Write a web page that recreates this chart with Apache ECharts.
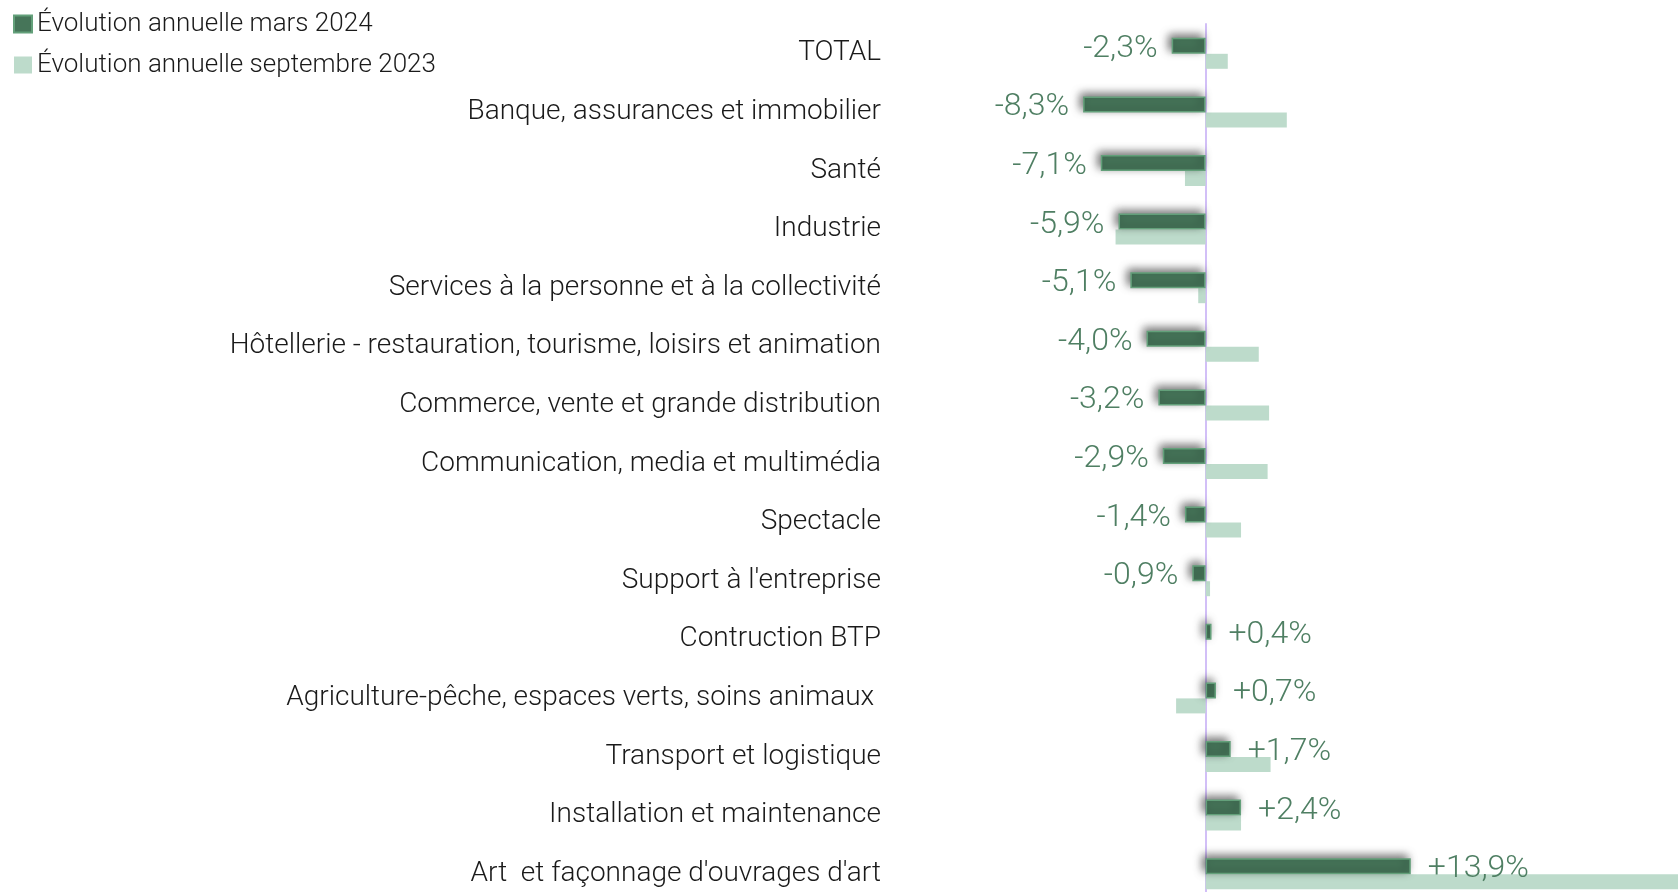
<!DOCTYPE html>
<html lang="fr">
<head>
    <meta charset="UTF-8">
    <title>Évolution annuelle par secteur</title>
    <script src="https://cdn.jsdelivr.net/npm/echarts@6/dist/echarts.min.js"></script>
    <style>
        body {
            margin: 0;
            padding: 0;
            background-color: #ffffff;
        }
        #chart {
            width: 1678px;
            height: 892px;
        }
    </style>
</head>
<body>
<div id="chart"></div>
<script>
    // secteurs (de haut en bas)
    var categories = [
        'TOTAL',
        'Banque, assurances et immobilier',
        'Santé',
        'Industrie',
        'Services à la personne et à la collectivité',
        'Hôtellerie - restauration, tourisme, loisirs et animation',
        'Commerce, vente et grande distribution',
        'Communication, media et multimédia',
        'Spectacle',
        "Support à l'entreprise",
        'Contruction BTP',
        'Agriculture-pêche, espaces verts, soins animaux ',
        'Transport et logistique',
        'Installation et maintenance',
        "Art  et façonnage d'ouvrages d'art"
    ];
    // évolution annuelle mars 2024 (%)
    var mars2024 = [-2.3, -8.3, -7.1, -5.9, -5.1, -4.0, -3.2, -2.9, -1.4, -0.9, 0.4, 0.7, 1.7, 2.4, 13.9];
    // évolution annuelle septembre 2023 (%)
    var sept2023 = [1.5, 5.5, -1.4, -6.1, -0.5, 3.6, 4.3, 4.2, 2.4, 0.3, 0.0, -2.0, 4.4, 2.4, 35.0];

    var legendNames = ['Évolution annuelle mars 2024', 'Évolution annuelle septembre 2023'];

    var chart = echarts.init(document.getElementById('chart'));

    var labelFont = 'Roboto';

    // étiquette à gauche pour les valeurs négatives, à droite sinon
    var darkData = mars2024.map(function (v) {
        return {
            value: v,
            label: {
                position: v < 0 ? 'left' : 'right',
                distance: v < 0 ? 14 : 17
            }
        };
    });

    var option = {
        backgroundColor: '#ffffff',
        animation: false,
        legend: {
            orient: 'vertical',
            left: 8,
            top: 6,
            itemWidth: 18,
            itemHeight: 17,
            itemGap: 15,
            icon: 'rect',
            data: legendNames,
            textStyle: {
                fontFamily: labelFont,
                fontWeight: 300,
                fontSize: 26,
                color: '#1a1a1a'
            }
        },
        grid: {
            left: 1058,
            width: 620,
            top: 24,
            height: 879,
            outerBoundsMode: 'none'
        },
        xAxis: {
            type: 'value',
            min: -10,
            max: 32,
            axisLine: { show: false },
            axisTick: { show: false },
            axisLabel: { show: false },
            splitLine: { show: false }
        },
        yAxis: {
            type: 'category',
            inverse: true,
            data: categories,
            axisLine: {
                show: true,
                onZero: true,
                lineStyle: { color: '#d2bff7', width: 2 }
            },
            axisTick: { show: false },
            axisLabel: {
                margin: 177,
                fontFamily: labelFont,
                fontWeight: 300,
                fontSize: 28,
                color: '#1a1a1a'
            }
        },
        series: [
            {
                name: legendNames[0],
                type: 'bar',
                data: darkData,
                barWidth: 16,
                barGap: '0%',
                z: 3,
                itemStyle: {
                    color: '#467559',
                    borderColor: '#63a07a',
                    borderWidth: 1.5,
                    shadowColor: 'rgba(0,0,0,0.55)',
                    shadowBlur: 9,
                    shadowOffsetX: -3,
                    shadowOffsetY: -3
                },
                label: {
                    show: true,
                    offset: [0, 3],
                    fontFamily: labelFont,
                    fontWeight: 300,
                    fontSize: 32,
                    color: '#4f7f63',
                    formatter: function (p) {
                        var v = p.value;
                        var s = Math.abs(v).toFixed(1).replace('.', ',');
                        return (v < 0 ? '-' : '+') + s + '%';
                    }
                }
            },
            {
                name: legendNames[1],
                type: 'bar',
                data: sept2023,
                barWidth: 15,
                z: 2,
                itemStyle: {
                    color: '#bddbcb'
                }
            }
        ]
    };

    chart.setOption(option);
</script>
</body>
</html>
